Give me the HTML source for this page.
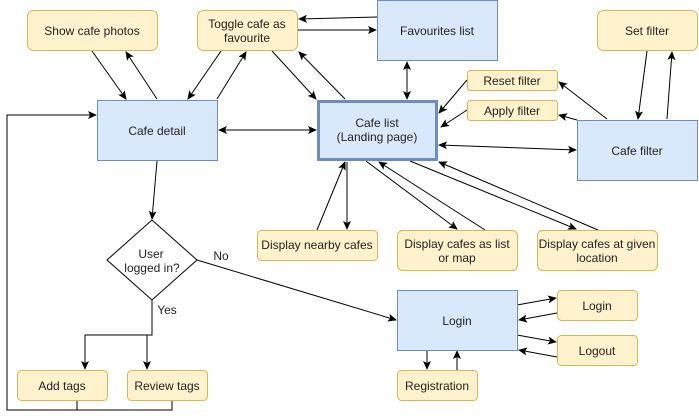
<!DOCTYPE html>
<html><head><style>
body{margin:0;background:#fff;}
svg{display:block;font-family:"Liberation Sans",sans-serif;font-size:12px;}
.y{fill:#fff2cc;stroke:#d6b656;}
.b{fill:#dae8fc;stroke:#6c8ebf;}
text{fill:#222;text-anchor:middle;}
line,polyline{stroke:#000;fill:none;stroke-width:1;}
</style></head><body>
<svg width="699" height="420" viewBox="0 0 699 420">
<defs><marker id="a" markerWidth="10" markerHeight="10" refX="8" refY="4" orient="auto" markerUnits="userSpaceOnUse"><path d="M0,0 L9,4 L0,8 L2,4 Z" fill="#000"/></marker>
<marker id="s" markerWidth="10" markerHeight="10" refX="1" refY="4" orient="auto" markerUnits="userSpaceOnUse"><path d="M9,0 L0,4 L9,8 L7,4 Z" fill="#000"/></marker></defs>
<g marker-end="url(#a)">
<line x1="92" y1="51" x2="126" y2="99"/>
<line x1="157" y1="99" x2="126" y2="52"/>
<line x1="221" y1="51" x2="188" y2="99"/>
<line x1="217" y1="99" x2="246" y2="52"/>
<line x1="272" y1="51" x2="316" y2="99"/>
<line x1="345" y1="99" x2="299" y2="52"/>
<line x1="377" y1="17" x2="299" y2="19"/>
<line x1="298" y1="30" x2="376" y2="30"/>
<line x1="407" y1="62" x2="407" y2="99" marker-start="url(#s)"/>
<line x1="219" y1="130" x2="316" y2="130" marker-start="url(#s)"/>
<line x1="467" y1="80" x2="439" y2="113"/>
<line x1="467" y1="110" x2="441" y2="127"/>
<line x1="439" y1="145" x2="576" y2="150" marker-start="url(#s)"/>
<line x1="607" y1="119" x2="559" y2="82"/>
<line x1="577" y1="120" x2="559" y2="115"/>
<line x1="647" y1="51" x2="638" y2="119"/>
<line x1="667" y1="119" x2="672" y2="52"/>
<line x1="317" y1="230" x2="345" y2="162"/>
<line x1="347" y1="162" x2="347" y2="229"/>
<line x1="366" y1="161" x2="457" y2="229"/>
<line x1="485" y1="230" x2="379" y2="162"/>
<line x1="410" y1="161" x2="576" y2="229"/>
<line x1="598" y1="230" x2="439" y2="162"/>
<line x1="157" y1="161" x2="152" y2="219"/>
<line x1="197" y1="260" x2="396" y2="320"/>
<line x1="517" y1="305" x2="556" y2="298"/>
<line x1="557" y1="313" x2="519" y2="320"/>
<line x1="517" y1="335" x2="556" y2="342"/>
<line x1="557" y1="357" x2="519" y2="350"/>
<line x1="427" y1="350" x2="427" y2="369"/>
<line x1="457" y1="370" x2="457" y2="351"/>
<polyline points="152,300 152,335 85,335 85,369"/>
<polyline points="152,335 147,335 147,369"/>
<polyline points="77,400 77,410 7,410 7,115 96,115"/>
</g>
<polyline points="172,400 172,410 77,410"/>
<rect class="y" x="27.5" y="10.5" width="130" height="40" rx="6"/><text x="92" y="35">Show cafe photos</text>
<rect class="y" x="197.5" y="10.5" width="100" height="40" rx="6"/><text x="247" y="28">Toggle cafe as</text><text x="247" y="42">favourite</text>
<rect class="b" x="377.5" y="0.5" width="120" height="60"/><text x="437" y="35">Favourites list</text>
<rect class="y" x="597.5" y="10.5" width="100" height="40" rx="6"/><text x="647" y="35">Set filter</text>
<rect class="b" x="97.5" y="100.5" width="120" height="60"/><text x="157" y="135">Cafe detail</text>
<rect class="b" x="318.5" y="101.5" width="118" height="58" stroke-width="3" style="stroke:#6c8ebf"/><text x="377" y="127">Cafe list</text><text x="377" y="141">(Landing page)</text>
<rect class="y" x="467.5" y="70.5" width="90" height="20" rx="3"/><text x="512" y="85">Reset filter</text>
<rect class="y" x="467.5" y="100.5" width="90" height="20" rx="3"/><text x="512" y="115">Apply filter</text>
<rect class="b" x="577.5" y="120.5" width="120" height="60"/><text x="637" y="155">Cafe filter</text>
<polygon points="152,220 197,260 152,300 107,260" fill="#fff" stroke="#000"/><text x="151" y="258">User</text><text x="152" y="272">logged in?</text>
<text x="221" y="260">No</text><text x="167" y="314">Yes</text>
<rect class="y" x="257.5" y="230.5" width="120" height="30" rx="4"/><text x="317" y="249">Display nearby cafes</text>
<rect class="y" x="397.5" y="230.5" width="120" height="40" rx="5"/><text x="457" y="248">Display cafes as list</text><text x="457" y="262">or map</text>
<rect class="y" x="537.5" y="230.5" width="120" height="40" rx="5"/><text x="597" y="248">Display cafes at given</text><text x="597" y="262">location</text>
<rect class="b" x="397.5" y="290.5" width="120" height="60"/><text x="457" y="325">Login</text>
<rect class="y" x="557.5" y="290.5" width="80" height="30" rx="4"/><text x="597" y="310">Login</text>
<rect class="y" x="557.5" y="335.5" width="80" height="30" rx="4"/><text x="597" y="355">Logout</text>
<rect class="y" x="397.5" y="370.5" width="80" height="30" rx="4"/><text x="437" y="390">Registration</text>
<rect class="y" x="17.5" y="370.5" width="90" height="30" rx="4"/><text x="62" y="390">Add tags</text>
<rect class="y" x="127.5" y="370.5" width="80" height="30" rx="4"/><text x="167" y="390">Review tags</text>
</svg>
</body></html>
